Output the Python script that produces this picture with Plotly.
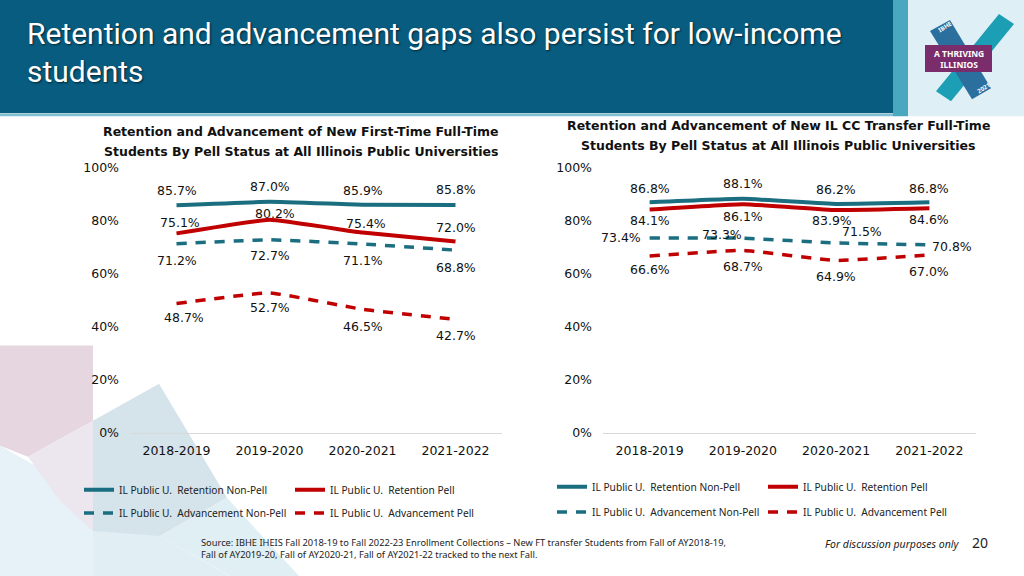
import plotly.graph_objects as go

W, H = 1024, 576

years = ["2018-2019", "2019-2020", "2020-2021", "2021-2022"]

# Left chart: New First-Time Full-Time students
ft_ret_nonpell = [85.7, 87.0, 85.9, 85.8]
ft_ret_pell = [75.1, 80.2, 75.4, 72.0]
ft_adv_nonpell = [71.2, 72.7, 71.1, 68.8]
ft_adv_pell = [48.7, 52.7, 46.5, 42.7]

# Right chart: New IL CC Transfer Full-Time students
tr_ret_nonpell = [86.8, 88.1, 86.2, 86.8]
tr_ret_pell = [84.1, 86.1, 83.9, 84.6]
tr_adv_nonpell = [73.4, 73.3, 71.5, 70.8]
tr_adv_pell = [66.6, 68.7, 64.9, 67.0]

series_names = [
    "IL Public U.  Retention Non-Pell",
    "IL Public U.  Retention Pell",
    "IL Public U.  Advancement Non-Pell",
    "IL Public U.  Advancement Pell",
]

y_ticks = [0, 20, 40, 60, 80, 100]

TEAL = "#1b6e80"
RED = "#c00000"
NUMFONT = "DejaVu Sans"
TXTFONT = "Noto Sans"

# the page is shown with an 8px band above and below; place things so that
# they land where the reference has them
TOP, VIS = 8, 560


def px(x):
    return x / W


def py(y):
    return 1 - (y - TOP) / VIS


fig = go.Figure()

styles = [
    dict(color=TEAL, width=4, dash="solid"),
    dict(color=RED, width=4, dash="solid"),
    dict(color=TEAL, width=3.5, dash="10px,9px"),
    dict(color=RED, width=3.5, dash="10px,9px"),
]

left_data = [ft_ret_nonpell, ft_ret_pell, ft_adv_nonpell, ft_adv_pell]
right_data = [tr_ret_nonpell, tr_ret_pell, tr_adv_nonpell, tr_adv_pell]

# label offsets (xshift, yshift) per point, style only
left_offsets = [
    [(0, 15), (0, 15), (0, 14), (0, 15)],
    [(3, 11), (5, 6), (3, 9), (0, 14)],
    [(0, -17), (0, -16), (0, -16), (0, -17)],
    [(7, -14), (0, -15), (0, -17), (0, -16)],
]
right_offsets = [
    [(0, 14), (0, 15), (0, 14), (0, 14)],
    [(0, -11), (0, -12), (-4, -10), (0, -11)],
    [(-29, 0), (-21, 4), None, (23, -2)],
    [(0, -14), (0, -16), (0, -16), (0, -17)],
]

# legend positions: (sample start x, row y)
left_leg = [(87, 489), (298, 489), (87, 512), (298, 512)]
right_leg = [(560, 486), (771, 486), (560, 511), (771, 511)]

annotations = []
legends = {}
li = 1
for side, data, offs, legpos, xa, ya in [
    ("L", left_data, left_offsets, left_leg, "x", "y"),
    ("R", right_data, right_offsets, right_leg, "x2", "y2"),
]:
    for i, vals in enumerate(data):
        lname = "legend" if li == 1 else f"legend{li}"
        fig.add_trace(go.Scatter(
            x=years, y=vals, mode="lines", name=series_names[i],
            line=dict(color=styles[i]["color"], width=styles[i]["width"],
                      dash=styles[i]["dash"], shape="spline", smoothing=0.3),
            xaxis=xa, yaxis=ya, legend=lname, hoverinfo="skip",
        ))
        lx, ly = legpos[i]
        legends[lname] = dict(
            x=px(lx - 8), y=py(ly), xanchor="left", yanchor="middle",
            orientation="h", bgcolor="rgba(0,0,0,0)", borderwidth=0,
            font=dict(family=TXTFONT, size=10.2, color="#222222"),
            itemwidth=30, tracegroupgap=0,
        )
        li += 1
        for j, v in enumerate(vals):
            o = offs[i][j]
            if o is None:
                annotations.append(dict(
                    x=years[j], y=v, xref=xa, yref=ya, text=f"{v:.1f}%",
                    showarrow=True, ax=26, ay=-11, arrowhead=0, arrowwidth=1,
                    arrowcolor="#a6a6a6", standoff=3, startstandoff=0,
                    xanchor="center", yanchor="middle",
                    font=dict(family=NUMFONT, size=12.5, color="#111111"),
                ))
            else:
                annotations.append(dict(
                    x=years[j], y=v, xref=xa, yref=ya, text=f"{v:.1f}%",
                    showarrow=False, xshift=o[0], yshift=o[1],
                    xanchor="center", yanchor="middle",
                    font=dict(family=NUMFONT, size=12.5, color="#111111"),
                ))

axis_common_x = dict(
    type="category", range=[-0.5, 3.5], showgrid=False, zeroline=False,
    showline=True, linecolor="#d9d9d9", linewidth=1, ticks="",
    tickfont=dict(family=NUMFONT, size=12.5, color="#111111"),
    ticklabelstandoff=6, fixedrange=True,
)
axis_common_y = dict(
    range=[0, 100], tickvals=y_ticks, ticktext=[f"{t}%" for t in y_ticks],
    showgrid=False, zeroline=False, showline=False, ticks="",
    tickfont=dict(family=NUMFONT, size=12.5, color="#111111"),
    ticklabelstandoff=10, fixedrange=True,
)

shapes = []


def poly(points, color, layer="below"):
    path = "M " + " L ".join(f"{px(x):.5f},{py(y):.5f}" for x, y in points) + " Z"
    shapes.append(dict(type="path", path=path, xref="paper", yref="paper",
                       fillcolor=color, line=dict(width=0), layer=layer))


def rect(x0, y0, x1, y1, color, layer="above"):
    shapes.append(dict(type="rect", xref="paper", yref="paper",
                       x0=px(x0), x1=px(x1), y0=py(y1), y1=py(y0),
                       fillcolor=color, line=dict(width=0), layer=layer))


# decorative background shapes (lower left)
poly([(0, 445), (0, 576), (232, 576)], "#e6f2f8")
poly([(0, 345), (93, 345), (93, 420), (28, 456), (0, 445)], "#e5d6e0")
poly([(28, 456), (93, 420), (93, 530), (60, 500)], "#ece6ef")
poly([(93, 420), (159, 383), (227, 497), (160, 535), (93, 576), (93, 530)], "#d5e3eb")
poly([(93, 530), (160, 535), (230, 576), (93, 576)], "#e1eef4")
poly([(160, 535), (227, 497), (300, 576), (232, 576)], "#e0eff3")

# header
rect(0, 0, 893, 113, "#075c7f")
rect(0, 113.5, 893, 116, "#7fbfd4")
rect(893, 0, 908, 116, "#4aa7c0")
rect(908, 0, 1024, 116, "#deeff6")
# logo
poly([(999, 14), (1014, 24), (951, 101), (936, 91)], "#1c9fb4", layer="above")
poly([(930, 31), (950, 20), (991, 88), (972, 99)], "#2b6f9e", layer="above")
rect(925, 45, 992, 72, "#7a2c6b")


def pann(x, y, text, size, color="#111111", xanchor="center", yanchor="middle",
         family=TXTFONT, **kw):
    d = dict(x=px(x), y=py(y), xref="paper", yref="paper", showarrow=False,
             text=text, xanchor=xanchor, yanchor=yanchor,
             font=dict(family=family, size=size, color=color))
    d["font"].update(kw.pop("fontextra", {}))
    d.update(kw)
    return d


shadow = {"shadow": "1px 1px 2px rgba(0,0,0,0.6)"}
annotations += [
    pann(25, 33, "Retention and advancement gaps also persist for low-income", 30,
         "white", xanchor="left", family="Roboto", fontextra=shadow),
    pann(25, 71, "students", 30, "white", xanchor="left", family="Roboto",
         fontextra=shadow),
    pann(958.5, 58.5, "<b>A THRIVING<br>ILLINIOS</b>", 8.5, "white"),
    pann(945, 27, "<b>IBHE</b>", 6, "white", textangle=-32),
    pann(984, 88, "<b>2021</b>", 6, "white", textangle=-32),
    pann(301, 131, "<b>Retention and Advancement of New First-Time Full-Time</b>", 12.5,
         family="DejaVu Sans"),
    pann(301, 151, "<b>Students By Pell Status at All Illinois Public Universities</b>", 12.5,
         family="DejaVu Sans"),
    pann(778, 125, "<b>Retention and Advancement of New IL CC Transfer Full-Time</b>", 12.5,
         family="DejaVu Sans"),
    pann(778, 145, "<b>Students By Pell Status at All Illinois Public Universities</b>", 12.5,
         family="DejaVu Sans"),
    pann(199, 548, "Source: IBHE IHEIS Fall 2018-19 to Fall 2022-23 Enrollment Collections – "
                   "New FT transfer Students from Fall of AY2018-19,<br>"
                   "Fall of AY2019-20, Fall of AY2020-21, Fall of AY2021-22 tracked to the next Fall.",
         9.3, "#222222", xanchor="left", align="left"),
    pann(962, 543, "<i>For discussion purposes only</i>", 10.5, "#222222", xanchor="right"),
    pann(980, 542, "20", 14, "#222222"),
]

layout = dict(
    width=W, height=H, margin=dict(l=0, r=0, t=0, b=0),
    paper_bgcolor="white", plot_bgcolor="rgba(0,0,0,0)",
    showlegend=True,
    xaxis=dict(domain=[px(130), px(502)], anchor="y", **axis_common_x),
    yaxis=dict(domain=[py(432), py(167)], anchor="x", **axis_common_y),
    xaxis2=dict(domain=[px(603), px(976)], anchor="y2", **axis_common_x),
    yaxis2=dict(domain=[py(432), py(167)], anchor="x2", **axis_common_y),
    shapes=shapes, annotations=annotations,
)
layout.update(legends)
fig.update_layout(**layout)

fig.write_html(
    "out.html",
    config={"displayModeBar": False},
    post_script=("document.documentElement.style.margin='0';"
                 "document.body.style.margin='0';"
                 "document.body.style.padding='0';"
                 "document.body.style.overflow='hidden';"
                 "document.body.style.background='linear-gradient(to right, "
                 "#075c7f 0px, #075c7f 893px, #4aa7c0 893px, #4aa7c0 908px, "
                 "#deeff6 908px) 0 0 / 100% 8px no-repeat, #ffffff';"),
)
